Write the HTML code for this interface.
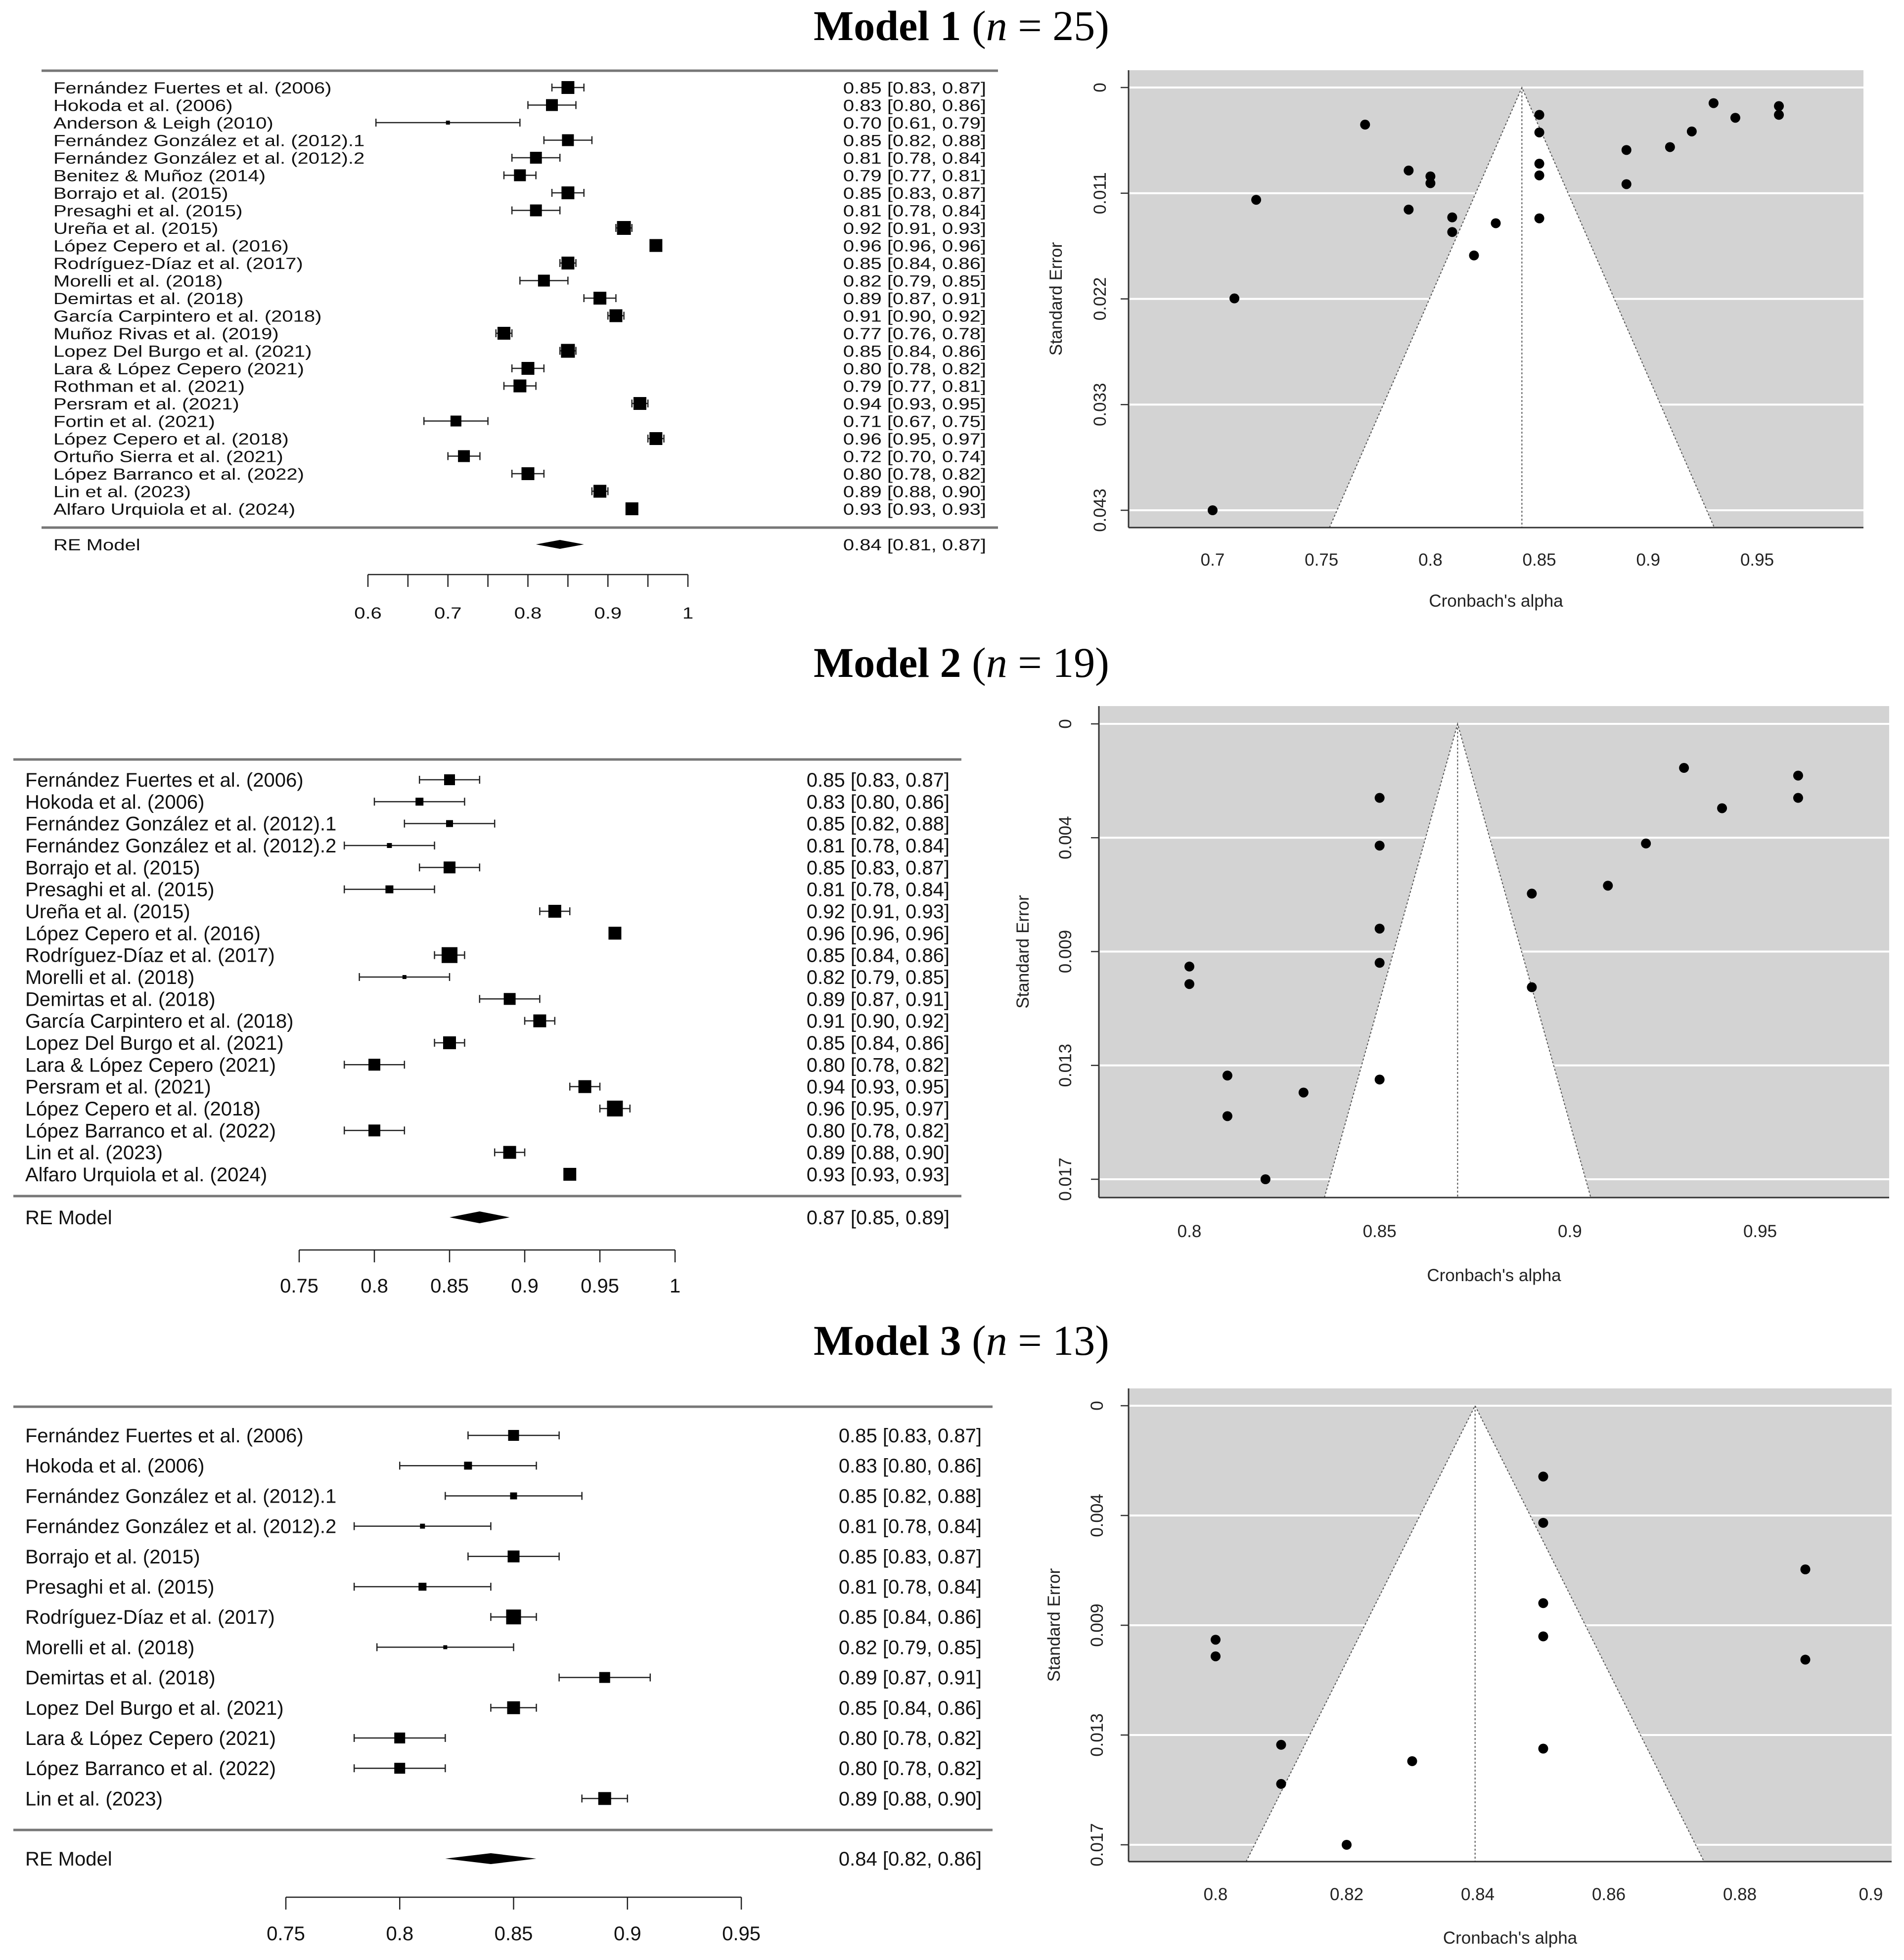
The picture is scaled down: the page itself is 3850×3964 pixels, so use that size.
<!DOCTYPE html>
<html><head><meta charset="utf-8"><style>
html,body{margin:0;padding:0;background:#fff;}
svg{display:block;}
</style></head><body>
<svg id="fig" xmlns="http://www.w3.org/2000/svg" width="3850" height="3964" viewBox="0 0 3850 3964">
<rect x="0" y="0" width="3850" height="3964" fill="#fff"/>
<text x="1944" y="81" text-anchor="middle" font-family="Liberation Serif, serif" font-size="86" font-weight="bold">Model 1 <tspan font-weight="normal">(</tspan><tspan font-style="italic" font-weight="normal">n</tspan><tspan font-weight="normal"> = 25)</tspan></text>
<text x="1944" y="1369" text-anchor="middle" font-family="Liberation Serif, serif" font-size="86" font-weight="bold">Model 2 <tspan font-weight="normal">(</tspan><tspan font-style="italic" font-weight="normal">n</tspan><tspan font-weight="normal"> = 19)</tspan></text>
<text x="1944" y="2740" text-anchor="middle" font-family="Liberation Serif, serif" font-size="86" font-weight="bold">Model 3 <tspan font-weight="normal">(</tspan><tspan font-style="italic" font-weight="normal">n</tspan><tspan font-weight="normal"> = 13)</tspan></text>
<g id="f1"></g>
<g id="f2"></g>
<g id="f3"></g>
<g id="p1"></g>
<g id="p2"></g>
<g id="p3"></g>
</svg>
<script>
// ---------- Model 1 data ----------
const m1Labels = ["Fernández Fuertes et al. (2006)","Hokoda et al. (2006)","Anderson & Leigh (2010)","Fernández González et al. (2012).1","Fernández González et al. (2012).2","Benitez & Muñoz (2014)","Borrajo et al. (2015)","Presaghi et al. (2015)","Ureña et al. (2015)","López Cepero et al. (2016)","Rodríguez-Díaz et al. (2017)","Morelli et al. (2018)","Demirtas et al. (2018)","García Carpintero et al. (2018)","Muñoz Rivas et al. (2019)","Lopez Del Burgo et al. (2021)","Lara & López Cepero (2021)","Rothman et al. (2021)","Persram et al. (2021)","Fortin et al. (2021)","López Cepero et al. (2018)","Ortuño Sierra et al. (2021)","López Barranco et al. (2022)","Lin et al. (2023)","Alfaro Urquiola et al. (2024)"];
const m1Est = [0.85,0.83,0.70,0.85,0.81,0.79,0.85,0.81,0.92,0.96,0.85,0.82,0.89,0.91,0.77,0.85,0.80,0.79,0.94,0.71,0.96,0.72,0.80,0.89,0.93];
const m1Lo  = [0.83,0.80,0.61,0.82,0.78,0.77,0.83,0.78,0.91,0.96,0.84,0.79,0.87,0.90,0.76,0.84,0.78,0.77,0.93,0.67,0.95,0.70,0.78,0.88,0.93];
const m1Hi  = [0.87,0.86,0.79,0.88,0.84,0.81,0.87,0.84,0.93,0.96,0.86,0.85,0.91,0.92,0.78,0.86,0.82,0.81,0.95,0.75,0.97,0.74,0.82,0.90,0.93];
const m1Weight = [13,12,4,12,12,12,13,12,14,13,13,12,13,13,13,14,13,13,13,11,13,12,13,13,13];
const m1Pooled = [0.84,0.81,0.87];
const m1XTicks = [0.6,0.65,0.7,0.75,0.8,0.85,0.9,0.95,1];
const m1XTickLabels = ["0.6","","0.7","","0.8","","0.9","","1"];
const m1FunnelAlpha = [0.77,0.79,0.80,0.80,0.79,0.72,0.81,0.81,0.83,0.82,0.71,0.70,0.85,0.85,0.85,0.85,0.85,0.89,0.89,0.91,0.92,0.93,0.94,0.96,0.96];
const m1FunnelSE = [0.0038,0.0085,0.0091,0.0098,0.0125,0.0115,0.0133,0.0148,0.0139,0.0172,0.0216,0.0433,0.0028,0.0046,0.0078,0.0090,0.0134,0.0064,0.0099,0.0061,0.0045,0.0016,0.0031,0.0019,0.0028];
const m1SeTicks = [0,0.010825,0.02165,0.032475,0.0433];
const m1SeTickLabels = ["0","0.011","0.022","0.033","0.043"];
const m1FunnelXTicks = [0.7,0.75,0.8,0.85,0.9,0.95];
const m1FunnelXLabels = ["0.7","0.75","0.8","0.85","0.9","0.95"];
const m1Center = 0.842;

// ---------- Model 2 data ----------
const m2Labels = ["Fernández Fuertes et al. (2006)","Hokoda et al. (2006)","Fernández González et al. (2012).1","Fernández González et al. (2012).2","Borrajo et al. (2015)","Presaghi et al. (2015)","Ureña et al. (2015)","López Cepero et al. (2016)","Rodríguez-Díaz et al. (2017)","Morelli et al. (2018)","Demirtas et al. (2018)","García Carpintero et al. (2018)","Lopez Del Burgo et al. (2021)","Lara & López Cepero (2021)","Persram et al. (2021)","López Cepero et al. (2018)","López Barranco et al. (2022)","Lin et al. (2023)","Alfaro Urquiola et al. (2024)"];
const m2Est = [0.85,0.83,0.85,0.81,0.85,0.81,0.92,0.96,0.85,0.82,0.89,0.91,0.85,0.80,0.94,0.96,0.80,0.89,0.93];
const m2Lo  = [0.83,0.80,0.82,0.78,0.83,0.78,0.91,0.96,0.84,0.79,0.87,0.90,0.84,0.78,0.93,0.95,0.78,0.88,0.93];
const m2Hi  = [0.87,0.86,0.88,0.84,0.87,0.84,0.93,0.96,0.86,0.85,0.91,0.92,0.86,0.82,0.95,0.97,0.82,0.90,0.93];
const m2Weight = [11,8,7,5,12,8,13,13,16,4,12,13,13,12,13,16,12,13,13];
const m2Pooled = [0.87,0.85,0.89];
const m2XTicks = [0.75,0.8,0.85,0.9,0.95,1];
const m2XTickLabels = ["0.75","0.8","0.85","0.9","0.95","1"];
const m2FunnelAlpha = [0.85,0.85,0.85,0.85,0.85,0.80,0.80,0.81,0.81,0.83,0.82,0.89,0.89,0.91,0.92,0.93,0.94,0.96,0.96];
const m2FunnelSE = [0.00279,0.00459,0.00772,0.00901,0.01341,0.00915,0.00981,0.01326,0.01479,0.0139,0.01717,0.0064,0.00993,0.0061,0.00451,0.00166,0.00318,0.00195,0.00279];
const m2SeTicks = [0,0.0042925,0.008585,0.0128775,0.01717];
const m2SeTickLabels = ["0","0.004","0.009","0.013","0.017"];
const m2FunnelXTicks = [0.8,0.85,0.9,0.95];
const m2FunnelXLabels = ["0.8","0.85","0.9","0.95"];
const m2Center = 0.8705;

// ---------- Model 3 data ----------
const m3Labels = ["Fernández Fuertes et al. (2006)","Hokoda et al. (2006)","Fernández González et al. (2012).1","Fernández González et al. (2012).2","Borrajo et al. (2015)","Presaghi et al. (2015)","Rodríguez-Díaz et al. (2017)","Morelli et al. (2018)","Demirtas et al. (2018)","Lopez Del Burgo et al. (2021)","Lara & López Cepero (2021)","López Barranco et al. (2022)","Lin et al. (2023)"];
const m3Est = [0.85,0.83,0.85,0.81,0.85,0.81,0.85,0.82,0.89,0.85,0.80,0.80,0.89];
const m3Lo  = [0.83,0.80,0.82,0.78,0.83,0.78,0.84,0.79,0.87,0.84,0.78,0.78,0.88];
const m3Hi  = [0.87,0.86,0.88,0.84,0.87,0.84,0.86,0.85,0.91,0.86,0.82,0.82,0.90];
const m3Weight = [11,8,7,5,12,8,15,4,11,13,11,11,13];
const m3Pooled = [0.84,0.82,0.86];
const m3XTicks = [0.75,0.8,0.85,0.9,0.95];
const m3XTickLabels = ["0.75","0.8","0.85","0.9","0.95"];
const m3FunnelAlpha = [0.85,0.85,0.85,0.85,0.85,0.80,0.80,0.81,0.81,0.83,0.82,0.89,0.89];
const m3FunnelSE = [0.00277,0.00458,0.00772,0.00902,0.01341,0.00915,0.0098,0.01326,0.01479,0.0139,0.01717,0.0064,0.00993];
const m3SeTicks = [0,0.0042925,0.008585,0.0128775,0.01717];
const m3SeTickLabels = ["0","0.004","0.009","0.013","0.017"];
const m3FunnelXTicks = [0.8,0.82,0.84,0.86,0.88,0.9];
const m3FunnelXLabels = ["0.8","0.82","0.84","0.86","0.88","0.9"];
const m3Center = 0.8396;

const NS = "http://www.w3.org/2000/svg";
function mk(tag, attrs, parent){
  const e = document.createElementNS(NS, tag);
  for (const k in attrs) e.setAttribute(k, attrs[k]);
  parent.appendChild(e);
  return e;
}
function fmt(v){ return v.toFixed(2); }
const SANS = "Liberation Sans, Arial, sans-serif";

function forest(g, L, labels, est, lo, hi, w, pooled, ticks, tickLabels){
  const X = v => L.x0 + (v - L.v0) / (L.v1 - L.v0) * (L.x1 - L.x0);
  const tf = (x, y) => `translate(${x},${y}) scale(1,${L.sy})`;
  let e;
  e = mk("line", {x1:L.xL, x2:L.xR, y1:L.top, y2:L.top, stroke:"#777", "stroke-width":5}, g);
  
  
  e = mk("line", {x1:L.xL, x2:L.xR, y1:L.bot, y2:L.bot, stroke:"#777", "stroke-width":5}, g);
  
  
  for (let i = 0; i < labels.length; i++){
    const y = L.row0 + i * L.dy;
    const t = mk("text", {transform:tf(L.labX, y + L.base), "font-family":SANS, "font-size":40, fill:"#111"}, g);
    t.textContent = labels[i];
    
    
    const v = mk("text", {transform:tf(L.valX, y + L.base), "font-family":SANS, "font-size":40, fill:"#111", "text-anchor":"end"}, g);
    v.textContent = fmt(est[i]) + " [" + fmt(lo[i]) + ", " + fmt(hi[i]) + "]";
    
    
    const ci = mk("line", {x1:X(lo[i]), x2:X(hi[i]), y1:y, y2:y, stroke:"#222", "stroke-width":2.5}, g);
    
    
    const c1 = mk("line", {x1:X(lo[i]), x2:X(lo[i]), y1:y-8, y2:y+8, stroke:"#222", "stroke-width":2.5}, g);
    
    
    const c2 = mk("line", {x1:X(hi[i]), x2:X(hi[i]), y1:y-8, y2:y+8, stroke:"#222", "stroke-width":2.5}, g);
    
    
    const s = w[i];
    const b = mk("rect", {x:X(est[i]) - s, y:y - s, width:2*s, height:2*s, fill:"#000"}, g);
    
    
  }
  // RE model
  const ry = L.re;
  const rt = mk("text", {transform:tf(L.labX, ry + L.base), "font-family":SANS, "font-size":40, fill:"#111"}, g);
  rt.textContent = "RE Model";
  
  
  const rv = mk("text", {transform:tf(L.valX, ry + L.base), "font-family":SANS, "font-size":40, fill:"#111", "text-anchor":"end"}, g);
  rv.textContent = fmt(pooled[0]) + " [" + fmt(pooled[1]) + ", " + fmt(pooled[2]) + "]";
  
  
  const d = mk("polygon", {points:`${X(pooled[1])},${ry} ${X(pooled[0])},${ry-L.dh} ${X(pooled[2])},${ry} ${X(pooled[0])},${ry+L.dh}`, fill:"#000"}, g);
  
  
  // axis
  const ax = mk("line", {x1:X(ticks[0]), x2:X(ticks[ticks.length-1]), y1:L.axisY, y2:L.axisY, stroke:"#222", "stroke-width":2.5}, g);
  
  
  for (let i = 0; i < ticks.length; i++){
    const tk = mk("line", {x1:X(ticks[i]), x2:X(ticks[i]), y1:L.axisY, y2:L.axisY + 25, stroke:"#222", "stroke-width":2.5}, g);
    
    
    if (tickLabels[i]){
      const tl = mk("text", {transform:tf(X(ticks[i]), L.tickLab), "font-family":SANS, "font-size":40, fill:"#111", "text-anchor":"middle"}, g);
      tl.textContent = tickLabels[i];
      
      
    }
  }
}

function funnel(g, L, alpha, se, center, seTicks, seLabels, xTicks, xLabels){
  const X = v => L.x0 + (v - L.v0) / (L.v1 - L.v0) * (L.x1 - L.x0);
  const Y = s => L.y0 + s / L.sMax * (L.y1 - L.y0);
  const sBot = (L.bot - L.y0) / (L.y1 - L.y0) * L.sMax;
  let e;
  e = mk("rect", {x:L.left, y:L.top, width:L.right-L.left, height:L.bot-L.top, fill:"#d3d3d3"}, g);
  
  
  const cx = X(center), lx = X(center - 1.96*sBot), rx = X(center + 1.96*sBot);
  e = mk("polygon", {points:`${cx},${Y(0)} ${lx},${L.bot} ${rx},${L.bot}`, fill:"#fff"}, g);
  
  
  for (let i = 0; i < seTicks.length; i++){
    const y = Y(seTicks[i]);
    const gl = mk("line", {x1:L.left, x2:L.right, y1:y, y2:y, stroke:"#fff", "stroke-width":4}, g);
    
    
    const tk = mk("line", {x1:L.left-16, x2:L.left, y1:y, y2:y, stroke:"#333", "stroke-width":2.5}, g);
    
    
    const tl = mk("text", {x:0, y:0, transform:`translate(${L.yLabX},${y}) rotate(-90)`, "font-family":SANS, "font-size":35, fill:"#222", "text-anchor":"middle"}, g);
    tl.textContent = seLabels[i];
    
    
  }
  e = mk("polyline", {points:`${lx},${L.bot} ${cx},${Y(0)} ${rx},${L.bot}`, fill:"none", stroke:"#555", "stroke-width":2, "stroke-dasharray":"4,4"}, g);
  
  
  e = mk("line", {x1:cx, x2:cx, y1:Y(0), y2:L.bot, stroke:"#555", "stroke-width":2, "stroke-dasharray":"4,4"}, g);
  
  
  for (let i = 0; i < alpha.length; i++){
    const p = mk("ellipse", {cx:X(alpha[i]), cy:Y(se[i]), rx:10, ry:10, fill:"#000"}, g);
    
    
  }
  e = mk("line", {x1:L.left, x2:L.left, y1:L.top, y2:L.bot, stroke:"#333", "stroke-width":3}, g);
  
  
  e = mk("line", {x1:L.left, x2:L.right, y1:L.bot, y2:L.bot, stroke:"#333", "stroke-width":3}, g);
  
  
  for (let i = 0; i < xTicks.length; i++){
    const tl = mk("text", {x:X(xTicks[i]), y:L.xTickY, "font-family":SANS, "font-size":35, fill:"#222", "text-anchor":"middle"}, g);
    tl.textContent = xLabels[i];
    
    
  }
  const xt = mk("text", {x:(L.left+L.right)/2, y:L.xTitleY, "font-family":SANS, "font-size":35, fill:"#222", "text-anchor":"middle"}, g);
  xt.textContent = "Cronbach's alpha";
  
  
  const yt = mk("text", {x:0, y:0, transform:`translate(${L.yTitleX},${(L.top+L.bot)/2}) rotate(-90)`, "font-family":SANS, "font-size":35, fill:"#222", "text-anchor":"middle"}, g);
  yt.textContent = "Standard Error";
  
  
}

forest(document.getElementById("f1"),
  {x0:744, v0:0.6, x1:1391, v1:1.0, xL:84, xR:2018, top:143, bot:1067, row0:177, dy:35.5, re:1101, dh:9, axisY:1162, tickLab:1251, labX:108, valX:1994, base:12, sy:0.8},
  m1Labels, m1Est, m1Lo, m1Hi, m1Weight, m1Pooled, m1XTicks, m1XTickLabels);
forest(document.getElementById("f2"),
  {x0:605, v0:0.75, x1:1365, v1:1.0, xL:27, xR:1944, top:1536, bot:2419, row0:1577, dy:44.33, re:2462, dh:12, axisY:2528, tickLab:2614, labX:51, valX:1920, base:14, sy:1},
  m2Labels, m2Est, m2Lo, m2Hi, m2Weight, m2Pooled, m2XTicks, m2XTickLabels);
forest(document.getElementById("f3"),
  {x0:578, v0:0.75, x1:1499, v1:0.95, xL:27, xR:2007, top:2845, bot:3701, row0:2903, dy:61.2, re:3759, dh:11, axisY:3837, tickLab:3924, labX:51, valX:1985, base:14, sy:1},
  m3Labels, m3Est, m3Lo, m3Hi, m3Weight, m3Pooled, m3XTicks, m3XTickLabels);

funnel(document.getElementById("p1"),
  {left:2282, right:3768, top:142, bot:1067, x0:2452, v0:0.7, x1:3553, v1:0.95, y0:177, y1:1032, sMax:0.0433, yLabX:2236, yTitleX:2147, xTickY:1144, xTitleY:1227},
  m1FunnelAlpha, m1FunnelSE, m1Center, m1SeTicks, m1SeTickLabels, m1FunnelXTicks, m1FunnelXLabels);
funnel(document.getElementById("p2"),
  {left:2222, right:3820, top:1428, bot:2422, x0:2405, v0:0.8, x1:3559, v1:0.95, y0:1464, y1:2385, sMax:0.01717, yLabX:2166, yTitleX:2080, xTickY:2502, xTitleY:2591},
  m2FunnelAlpha, m2FunnelSE, m2Center, m2SeTicks, m2SeTickLabels, m2FunnelXTicks, m2FunnelXLabels);
funnel(document.getElementById("p3"),
  {left:2282, right:3825, top:2808, bot:3765, x0:2458, v0:0.8, x1:3783, v1:0.9, y0:2843, y1:3731, sMax:0.01717, yLabX:2230, yTitleX:2143, xTickY:3843, xTitleY:3931},
  m3FunnelAlpha, m3FunnelSE, m3Center, m3SeTicks, m3SeTickLabels, m3FunnelXTicks, m3FunnelXLabels);
</script>
</body></html>
